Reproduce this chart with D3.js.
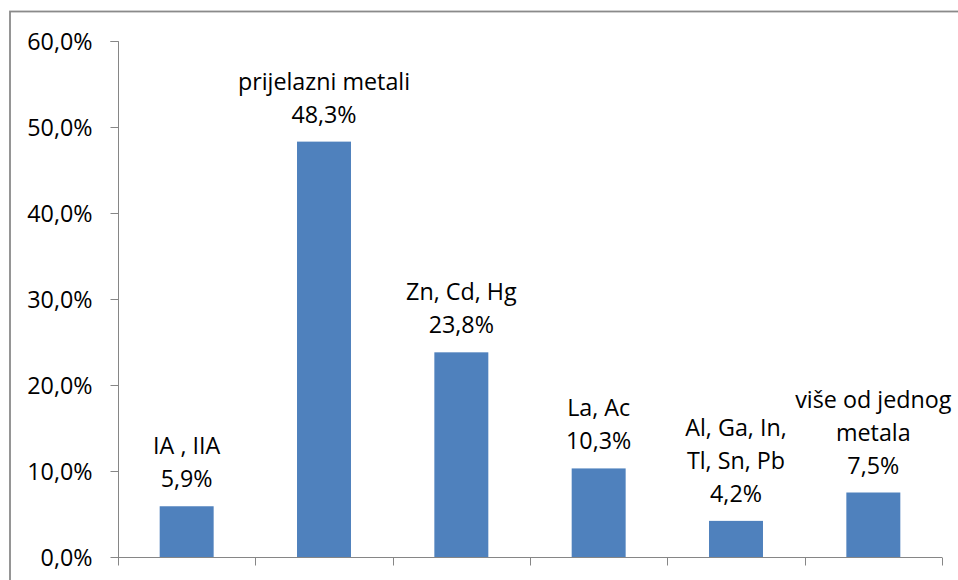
<!DOCTYPE html>
<html><head><meta charset="utf-8">
<script src="https://cdn.jsdelivr.net/npm/d3@7"></script>
<style>html,body{margin:0;padding:0;background:#fff;}svg{display:block;}</style>
</head><body>
<script>
const categories = ["IA , IIA", "prijelazni metali", "Zn, Cd, Hg", "La, Ac", "Al, Ga, In, Tl, Sn, Pb", "više od jednog metala"];
const labelLines = [["IA , IIA"], ["prijelazni metali"], ["Zn, Cd, Hg"], ["La, Ac"], ["Al, Ga, In,", "Tl, Sn, Pb"], ["više od jednog", "metala"]];
const values = [5.9, 48.3, 23.8, 10.3, 4.2, 7.5];
const yTicks = [0, 10, 20, 30, 40, 50, 60];

const W = 958, H = 580;
const svg = d3.select("body").append("svg").attr("width", W).attr("height", H);
const font = "'Open Sans', sans-serif";
const fs = 23.3;

svg.append("rect").attr("x", 10).attr("y", 11.5).attr("width", 960).attr("height", 600)
  .attr("fill", "none").attr("stroke", "#8a8a8a").attr("stroke-width", 1.8);

const x = d3.scaleBand().domain(categories).range([118, 942]).paddingInner(0.607).paddingOuter(0.3035);
const y = d3.scaleLinear().domain([0, 60]).range([557, 41]);

const fmt = v => v.toFixed(1).replace(".", ",") + "%";

// y axis
const ya = svg.append("g").attr("transform", "translate(118.5,0)")
  .call(d3.axisLeft(y).tickValues(yTicks).tickSize(8).tickPadding(18).tickFormat(fmt));
ya.select(".domain").attr("stroke", "#868686").attr("d", `M-8,${y(60)+0.5}H0V${y(0)+0.5}`);
ya.selectAll(".tick line").attr("stroke", "#868686");
ya.selectAll(".tick text").attr("font-family", font).attr("font-size", fs).attr("fill", "#000").attr("dy", "0.35em");

// x axis
const step = x.step();
const xa = svg.append("g").attr("transform", "translate(0,557.5)");
xa.append("line").attr("x1", 118).attr("x2", 942).attr("stroke", "#868686");
const bounds = d3.range(categories.length + 1).map(i => 118 + i * step);
xa.selectAll("line.t").data(bounds).join("line").attr("class", "t")
  .attr("x1", d => Math.round(d) + 0.5).attr("x2", d => Math.round(d) + 0.5)
  .attr("y1", 0).attr("y2", 8).attr("stroke", "#868686");

// bars
svg.selectAll("rect.bar").data(values).join("rect").attr("class", "bar")
  .attr("x", (d, i) => x(categories[i]))
  .attr("width", x.bandwidth())
  .attr("y", d => y(d))
  .attr("height", d => y(0) - y(d))
  .attr("fill", "#4F81BD");

// labels
const lh = 33;
values.forEach((v, i) => {
  const cx = x(categories[i]) + x.bandwidth() / 2;
  const lines = labelLines[i].concat([fmt(v)]);
  const base = y(v) - 19;
  const t = svg.append("text").attr("font-family", font).attr("font-size", fs)
    .attr("text-anchor", "middle").attr("fill", "#000");
  lines.forEach((l, j) => {
    t.append("tspan").attr("x", cx).attr("y", base - (lines.length - 1 - j) * lh).text(l);
  });
});
</script>
</body></html>
